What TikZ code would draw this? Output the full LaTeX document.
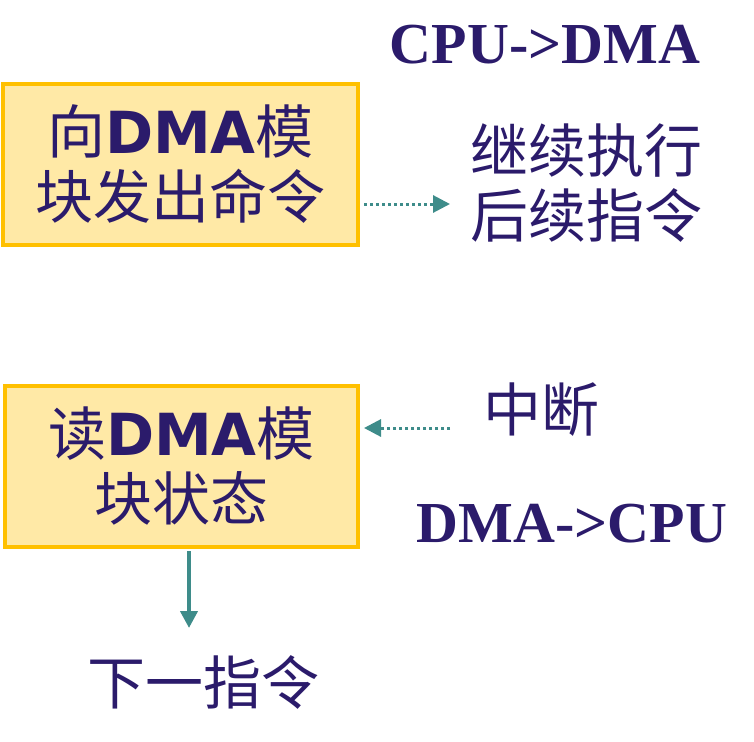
\documentclass[tikz,border=0pt]{standalone}
\usepackage{fontspec}
\setmainfont{Liberation Serif}
\newfontfamily\cjk{Noto Sans CJK SC}
\newfontfamily\dmaf{DejaVu Sans}
\usetikzlibrary{arrows.meta}
\definecolor{navy}{RGB}{43,27,107}
\definecolor{teal}{RGB}{62,140,138}
\definecolor{boxfill}{RGB}{255,233,166}
\definecolor{boxline}{RGB}{255,192,0}
\tikzset{
  stepbox/.style={draw=boxline, line width=4pt, fill=boxfill, inner sep=0pt,
    text=navy, align=center, font=\cjk\fontsize{58}{65}\selectfont},
  label/.style={text=navy, align=center, inner sep=0pt, font=\cjk\fontsize{58}{65}\selectfont},
  latin/.style={text=navy, inner sep=0pt, font=\bfseries\fontsize{58}{60}\selectfont},
  dotarrow/.style={teal, line width=3pt, dash pattern=on 3pt off 3pt, -{Triangle[length=17pt,width=17pt]}},
  solidarrow/.style={teal, line width=4pt, -{Triangle[length=17pt,width=17pt]}}
}
\begin{document}
\begin{tikzpicture}[x=1pt,y=-1pt]
\useasboundingbox (0,0) rectangle (754,741);
\node[latin] (cpudma) at (545,45) {CPU->DMA};
\node[stepbox, minimum width=355pt, minimum height=161pt] (box1) at (180.5,164.5)
  {向{\dmaf\bfseries DMA}模\\块发出命令};
\node[label] (cont) at (586,183) {继续执行\\后续指令};
\node[stepbox, minimum width=353pt, minimum height=161pt] (box2) at (181.5,466.5)
  {读{\dmaf\bfseries DMA}模\\块状态};
\node[label] (intr) at (541,410) {中断};
\node[latin] (dmacpu) at (572,524) {DMA->CPU};
\node[label] (next) at (203,682) {下一指令};
\coordinate (a1s) at ([yshift=-39.5pt,xshift=4pt]box1.east);
\coordinate (a1e) at (450,204);
\draw[dotarrow] (a1s) -- (a1e);
\coordinate (a2s) at (450,428);
\coordinate (a2e) at ([yshift=38.5pt,xshift=4pt]box2.east);
\draw[dotarrow] (a2s) -- (a2e);
\coordinate (a3s) at ([xshift=7.5pt,yshift=-2pt]box2.south);
\coordinate (a3e) at (189,628);
\draw[solidarrow] (a3s) -- (a3e);
\end{tikzpicture}
\end{document}
